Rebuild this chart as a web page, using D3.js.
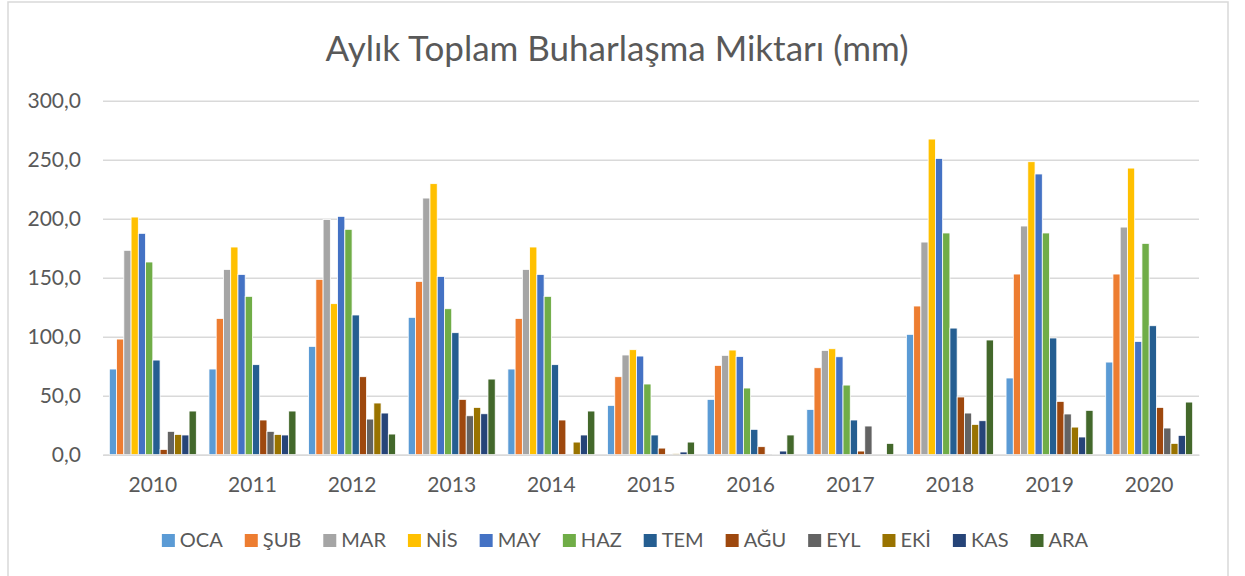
<!DOCTYPE html>
<html>
<head>
<meta charset="utf-8">
<script src="https://cdn.jsdelivr.net/npm/d3@7"></script>
<style>
  html, body { margin: 0; padding: 0; background: #fff; }
  svg { display: block; font-family: Lato, "Open Sans", sans-serif; }
</style>
</head>
<body>
<svg id="chart" width="1245" height="576"></svg>
<script>
// Monthly total evaporation (mm), one array per month, one value per year
const years = ["2010", "2011", "2012", "2013", "2014", "2015", "2016", "2017", "2018", "2019", "2020"];
const months = ["OCA", "ŞUB", "MAR", "NİS", "MAY", "HAZ", "TEM", "AĞU", "EYL", "EKİ", "KAS", "ARA"];
const monthColors = ["#5B9BD5", "#ED7D31", "#A5A5A5", "#FFC000", "#4472C4", "#70AD47",
                     "#255E91", "#9E480E", "#636363", "#997300", "#264478", "#43682B"];

const OCA = [72.6, 72.6, 91.8, 116.4, 72.6, 41.8, 46.9, 38.4, 102.0, 65.0, 78.5];
const SUB = [98.0, 115.5, 148.6, 146.9, 115.5, 66.1, 75.7, 73.7, 126.0, 153.1, 153.1];
const MAR = [173.2, 157.0, 199.4, 217.5, 157.0, 84.5, 84.2, 88.4, 180.2, 193.8, 192.9];
const NIS = [201.4, 176.0, 128.0, 229.7, 176.0, 89.0, 88.7, 89.8, 267.5, 248.3, 242.9];
const MAY = [187.6, 152.8, 202.0, 151.1, 152.8, 83.6, 83.3, 83.0, 251.1, 237.9, 96.0];
const HAZ = [163.3, 134.2, 191.0, 123.7, 134.2, 59.9, 56.5, 59.0, 187.9, 187.9, 179.1];
const TEM = [80.2, 76.3, 118.4, 103.4, 76.3, 16.7, 21.5, 29.4, 107.3, 98.9, 109.3];
const AGU = [4.5, 29.4, 66.1, 46.9, 29.4, 5.6, 6.8, 3.1, 48.9, 45.2, 40.1];
const EYL = [19.8, 19.8, 30.2, 33.0, 0.0, 0.0, 0.0, 24.3, 35.3, 34.5, 22.6];
const EKI = [17.2, 17.2, 43.8, 40.1, 10.7, 1.0, 0.5, 0.0, 25.7, 23.4, 9.6];
const KAS = [16.7, 16.7, 35.3, 34.7, 16.7, 2.3, 3.1, 0.0, 28.8, 15.0, 16.4];
const ARA = [37.0, 37.0, 17.5, 64.1, 37.0, 10.7, 16.7, 9.6, 97.2, 37.6, 44.6];

const yTicks = [0, 50, 100, 150, 200, 250, 300];
const title = "Aylık Toplam Buharlaşma Miktarı (mm)";

const seriesValues = [OCA, SUB, MAR, NIS, MAY, HAZ, TEM, AGU, EYL, EKI, KAS, ARA];
const table = years.map((yr, i) => ({
  year: yr,
  values: months.map((m, j) => ({ month: m, value: seriesValues[j][i], color: monthColors[j] }))
}));

const svg = d3.select("#chart");
const textColor = "#595959";
const gridColor = "#d9d9d9";
const fmt = v => d3.format(".1f")(v).replace(".", ",");

// chart frame
svg.append("rect")
  .attr("x", 8).attr("y", 2).attr("width", 1220).attr("height", 620)
  .attr("fill", "#fff").attr("stroke", gridColor).attr("stroke-width", 1.5);

const plot = { left: 103, right: 1199, top: 100.7, bottom: 454.7 };

const x0 = d3.scaleBand().domain(years).range([plot.left, plot.right])
  .paddingInner(0.127).paddingOuter(0.0635);
const x1 = d3.scaleBand().domain(months).range([0, x0.bandwidth()]).padding(0);
const y = d3.scaleLinear().domain([0, 300]).range([plot.bottom, plot.top]);

// horizontal gridlines and value labels
const yAxis = d3.axisLeft(y).tickValues(yTicks).tickFormat(fmt)
  .tickSize(-(plot.right - plot.left)).tickPadding(22);
const gy = svg.append("g").attr("transform", `translate(${plot.left},0)`).call(yAxis);
gy.select(".domain").remove();
gy.selectAll(".tick line").attr("stroke", gridColor).attr("stroke-width", 1.5);
gy.selectAll(".tick text").attr("fill", textColor).attr("font-size", 21)
  .attr("font-family", "Lato, sans-serif");

// bars
const groups = svg.append("g").selectAll("g").data(table).join("g")
  .attr("transform", d => `translate(${x0(d.year)},0)`);
groups.selectAll("rect").data(d => d.values).join("rect")
  .attr("x", d => x1(d.month))
  .attr("y", d => y(d.value))
  .attr("width", x1.bandwidth())
  .attr("height", d => y(0) - y(d.value))
  .attr("fill", d => d.color)
  .attr("stroke", "#fff").attr("stroke-width", 0.8);

// category axis
const xAxis = d3.axisBottom(x0).tickSize(0).tickPadding(22);
const gx = svg.append("g").attr("transform", `translate(0,${plot.bottom})`).call(xAxis);
gx.select(".domain").attr("stroke", gridColor).attr("stroke-width", 1.5);
gx.selectAll(".tick text").attr("fill", textColor).attr("font-size", 21)
  .attr("font-family", "Lato, sans-serif");

// title
svg.append("text")
  .attr("x", 617).attr("y", 61)
  .attr("text-anchor", "middle")
  .attr("fill", textColor).attr("font-size", 35)
  .text(title);

// legend
const legend = svg.append("g");
const gap = 22;
let cursor = 0;
months.forEach((m, j) => {
  const item = legend.append("g").attr("transform", `translate(${cursor},0)`);
  item.append("rect").attr("x", 0).attr("y", -13).attr("width", 13).attr("height", 13)
    .attr("fill", monthColors[j]);
  const t = item.append("text").attr("x", 18).attr("y", 0)
    .attr("fill", textColor).attr("font-size", 20).text(m);
  cursor += 18 + t.node().getComputedTextLength() + gap;
});
const legendWidth = cursor - gap;
legend.attr("transform", `translate(${625 - legendWidth / 2},547)`);
</script>
</body>
</html>
